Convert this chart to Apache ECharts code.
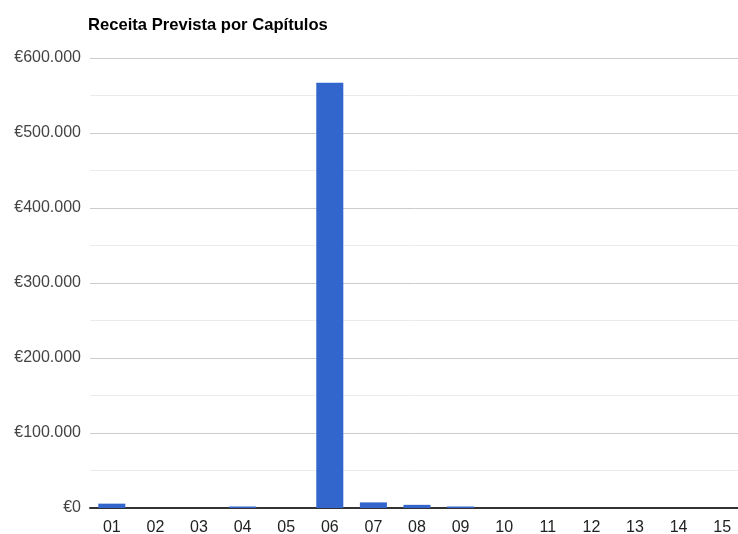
<!DOCTYPE html>
<html><head><meta charset="utf-8">
<script src="https://cdn.jsdelivr.net/npm/echarts@6/dist/echarts.min.js"></script>
<style>html,body{margin:0;padding:0;background:#fff}#c{width:738px;height:534px}</style>
</head><body><div id="c"></div>
<script>
const titleText = 'Receita Prevista por Capítulos';
const categories = ['01','02','03','04','05','06','07','08','09','10','11','12','13','14','15'];
const values = [5800, 0, 0, 2000, 0, 567000, 7500, 4200, 2000, 0, 0, 0, 0, 0, 0];
const yTicks = [0, 100000, 200000, 300000, 400000, 500000, 600000];

function fmt(v){ return '€' + String(v).replace(/\B(?=(\d{3})+(?!\d))/g, '.'); }

const chart = echarts.init(document.getElementById('c'));
chart.setOption({
  animation: false,
  title: { text: titleText, left: 88, top: 17, padding: 0,
    textStyle: { fontFamily: 'Arial, Liberation Sans', fontSize: 16.6, fontWeight: 'bold', color: '#000' } },
  grid: { left: 90, width: 654, top: 58, bottom: 26, containLabel: false, outerBoundsMode: 'none' },
  xAxis: { type: 'category', data: categories,
    axisLine: { show: true, lineStyle: { color: '#333', width: 2 } },
    axisTick: { show: false },
    axisLabel: { color: '#222', fontSize: 16, fontFamily: 'Arial, Liberation Sans', margin: 12 } },
  yAxis: { type: 'value', min: yTicks[0], max: yTicks[yTicks.length-1], interval: 100000,
    axisLine: { show: false }, axisTick: { show: false },
    axisLabel: { formatter: fmt, color: '#444', fontSize: 16, fontFamily: 'Arial, Liberation Sans', margin: 9 },
    splitLine: { lineStyle: { color: '#cccccc', width: 1 } },
    minorTick: { show: false, splitNumber: 2 },
    minorSplitLine: { show: true, lineStyle: { color: '#ebebeb', width: 1 } } },
  series: [{ type: 'bar', data: values, barWidth: '62%',
    itemStyle: { color: '#3366cc' } }]
});
</script></body></html>
